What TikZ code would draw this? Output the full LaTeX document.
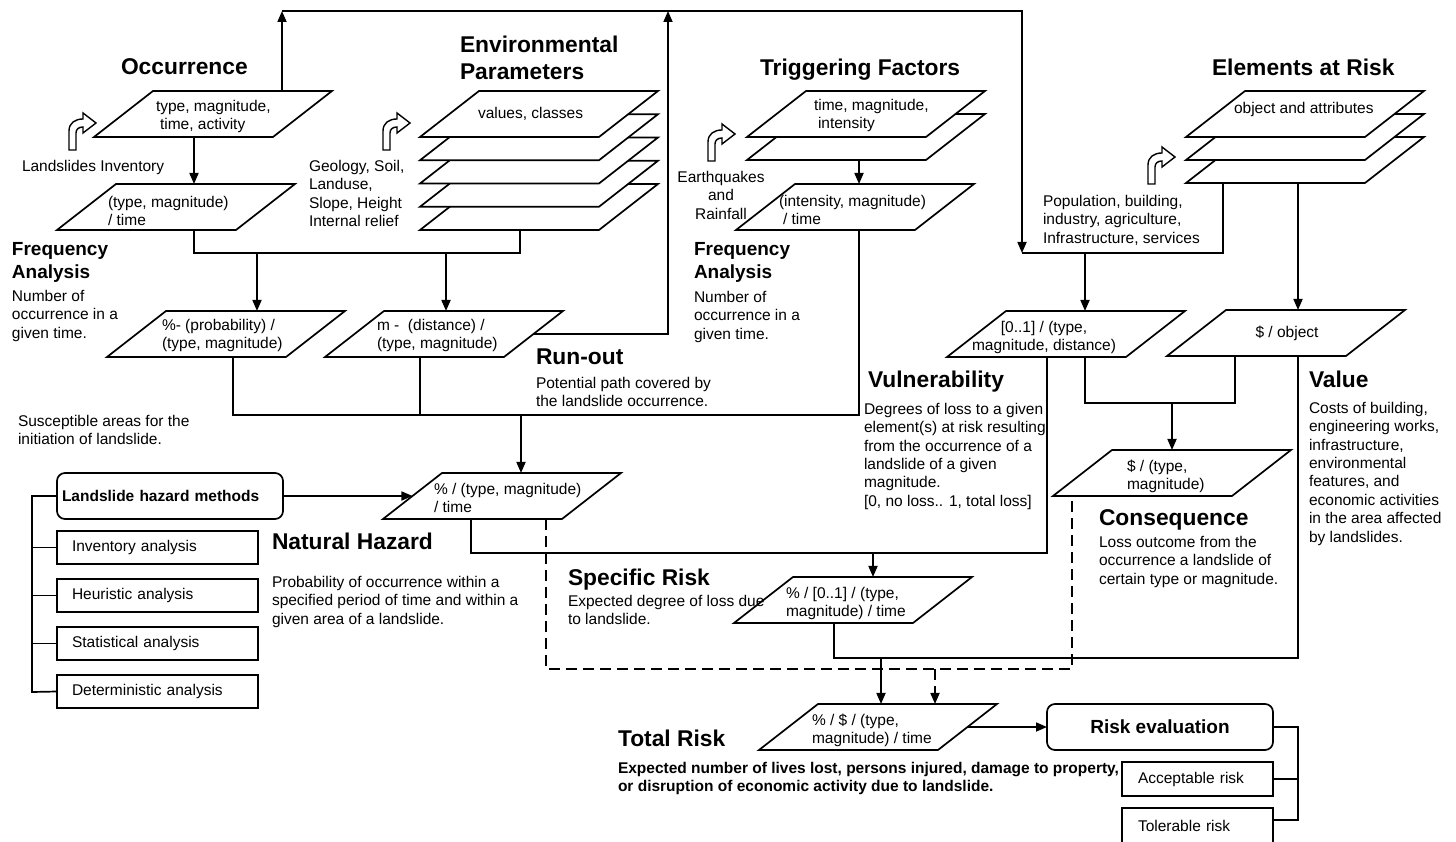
\documentclass[tikz,border=0pt]{standalone}
\usepackage{fontspec}
\setmainfont{Liberation Sans}
\usetikzlibrary{arrows.meta,shapes.geometric}
\begin{document}
\begin{tikzpicture}[x=1pt,y=-1pt,
  every node/.style={outer sep=0pt},
  ln/.style={line width=1.7pt},
  arr/.style={line width=1.7pt,-{Triangle[length=11pt,width=9pt]}},
  dsh/.style={line width=1.7pt,dash pattern=on 11pt off 6pt},
  dsharr/.style={dsh,-{Triangle[length=11pt,width=9pt]}},
  para/.style={trapezium, trapezium left angle=37.95, trapezium right angle=142.05,
    draw, line width=1.7pt, fill=white, inner sep=0pt, text width=120pt,
    text height=46pt, text depth=0pt, anchor=bottom left corner},
  txt/.style={font=\fontsize{15.5}{18.4}\selectfont, inner sep=0pt, align=left, anchor=north west},
  btxt/.style={txt, font=\bfseries\fontsize{15.5}{18.4}\selectfont},
  hd/.style={font=\bfseries\fontsize{22.8}{27}\selectfont, inner sep=0pt, align=left, anchor=north west},
  fa/.style={font=\bfseries\fontsize{19}{23}\selectfont, inner sep=0pt, align=left, anchor=north west},
  mbox/.style={draw, line width=1.7pt, anchor=north west, minimum height=33pt,
    text width=171pt, inner xsep=15pt, inner ysep=0pt, align=left,
    font=\fontsize{15.5}{18.4}\selectfont},
  rbox/.style={draw, line width=1.7pt, rounded corners=8pt, minimum height=46pt, anchor=north west},
  bend/.pic={\draw[line width=1.4pt, fill=white] (0,0) -- (0,-19) .. controls (0,-27) and (6,-31) .. (14,-31)
     -- (14,-37) -- (27,-27) -- (14,-17) -- (14,-23) .. controls (10,-23) and (7,-21) .. (7,-17) -- (7,0) -- cycle;}
]
\useasboundingbox (0,0) rectangle (1456,842);
\clip (0,0) rectangle (1456,842);

% ---------- parallelograms ----------
\node[para] (occ) at (94,137) {};
\node[para] (p2) at (57,230) {};
\node[para] (env5) at (420,230) {};
\node[para] (env4) at (420,206.75) {};
\node[para] (env3) at (420,183.5) {};
\node[para] (env2) at (420,160.25) {};
\node[para] (env1) at (420,137) {};
\node[para] (ppct) at (107,357) {};
\node[para] (pm) at (325,357) {};
\node[para] (trig2) at (747,160) {};
\node[para] (trig1) at (747,137) {};
\node[para] (pint) at (736,230) {};
\node[para] (elem3) at (1186,183) {};
\node[para] (elem2) at (1186,160) {};
\node[para] (elem1) at (1186,137) {};
\node[para] (p01) at (947,357) {};
\node[para] (pobj) at (1167,356) {};
\node[para] (pnat) at (383,519) {};
\node[para] (pspec) at (734,623) {};
\node[para] (pcons) at (1053,496) {};
\node[para] (ptot) at (759,750) {};

% ---------- boxes ----------
\node[rbox, minimum width=226pt, text width=216pt, inner xsep=5pt, align=left,
  font=\bfseries\fontsize{15.5}{18.4}\selectfont] (meth) at (57,473) {Landslide hazard methods};
\node[mbox] (minv) at (57,531) {Inventory analysis};
\node[mbox] (mheu) at (57,579) {Heuristic analysis};
\node[mbox] (msta) at (57,627) {Statistical analysis};
\node[mbox] (mdet) at (57,675) {Deterministic analysis};
\node[rbox, minimum width=226pt, font=\bfseries\fontsize{19}{23}\selectfont] (reval) at (1047,704) {Risk evaluation};
\node[mbox, text width=119pt, inner xsep=16pt, minimum height=34pt] (racc) at (1122,762) {Acceptable risk};
\node[mbox, text width=119pt, inner xsep=16pt, minimum height=36pt] (rtol) at (1122,808) {Tolerable risk};

% ---------- icons ----------
\pic at (69,150) {bend};
\pic at (383,150) {bend};
\pic at (708,161) {bend};
\pic at (1148,184) {bend};

% ---------- headings ----------
\node[hd] (h-occ) at (121,58.6) {Occurrence};
\node[hd] (h-env) at (460,35.6) {Environmental\\Parameters};
\node[hd] (h-trig) at (760,58.6) {Triggering Factors};
\node[hd] (h-elem) at (1212,58.6) {Elements at Risk};
\node[hd] (h-run) at (536,348.6) {Run-out};
\node[hd] (h-vul) at (868,370.6) {Vulnerability};
\node[hd] (h-val) at (1309,370.6) {Value};
\node[hd] (h-nat) at (272,532.6) {Natural Hazard};
\node[hd] (h-spec) at (568,568.6) {Specific Risk};
\node[hd] (h-cons) at (1099,509.6) {Consequence};
\node[hd] (h-tot) at (618,729.6) {Total Risk};
\node[fa] (h-fa1) at (12,242) {Frequency\\Analysis};
\node[fa] (h-fa2) at (694,242) {Frequency\\Analysis};

% ---------- texts ----------
\node[txt] (t-occ) at (156,100) {type, magnitude,\\\hspace*{4pt}time, activity};
\node[txt] (t-inv) at (22,160) {Landslides Inventory};
\node[txt] (t-p2) at (108,196) {(type, magnitude)\\/ time};
\node[txt] (t-env) at (478,107) {values, classes};
\node[txt] (t-geo) at (309,160) {Geology, Soil,\\Landuse,\\Slope, Height\\Internal relief};
\node[txt] (t-num1) at (12,290) {Number of\\occurrence in a\\given time.};
\node[txt] (t-pct) at (162,319) {\%- (probability) /\\(type, magnitude)};
\node[txt] (t-m) at (377,319) {m -\ \ (distance) /\\(type, magnitude)};
\node[txt] (t-run) at (536,377) {Potential path covered by\\the landslide occurrence.};
\node[txt] (t-sus) at (18,415) {Susceptible areas for the\\initiation of landslide.};
\node[txt] (t-trig) at (814,99) {time, magnitude,\\\hspace*{4pt}intensity};
\node[txt, anchor=north, align=center] (t-eq) at (721,171) {Earthquakes\\and\\Rainfall};
\node[txt] (t-int) at (779,195) {(intensity, magnitude)\\\hspace*{4pt}/ time};
\node[txt] (t-num2) at (694,291) {Number of\\occurrence in a\\given time.};
\node[txt] (t-obj) at (1234,102) {object and attributes};
\node[txt] (t-pop) at (1043,195) {Population, building,\\industry, agriculture,\\Infrastructure, services};
\node[txt, anchor=north, align=center] (t-01) at (1044,321) {[0..1] / (type,\\magnitude, distance)};
\node[txt, anchor=north, align=center] (t-dobj) at (1287,326) {\$ / object};
\node[txt] (t-vul) at (864,403) {Degrees of loss to a given\\element(s) at risk resulting\\from the occurrence of a\\landslide of a given\\magnitude.\\{}[0, no loss.. 1, total loss]};
\node[txt] (t-val) at (1309,402) {Costs of building,\\engineering works,\\infrastructure,\\environmental\\features, and\\economic activities\\in the area affected\\by landslides.};
\node[txt] (t-nat) at (434,483) {\% / (type, magnitude)\\/ time};
\node[txt] (t-prob) at (272,576) {Probability of occurrence within a\\specified period of time and within a\\given area of a landslide.};
\node[txt] (t-spec) at (568,595) {Expected degree of loss due\\to landslide.};
\node[txt] (t-pspec) at (786,587) {\% / [0..1] / (type,\\magnitude) / time};
\node[txt] (t-pcons) at (1127,460) {\$ / (type,\\magnitude)};
\node[txt] (t-cons) at (1099,536) {Loss outcome from the\\occurrence a landslide of\\certain type or magnitude.};
\node[txt] (t-ptot) at (812,714) {\% / \$ / (type,\\magnitude) / time};
\node[btxt] (t-tot) at (618,762) {Expected number of lives lost, persons injured, damage to property,\\or disruption of economic activity due to landslide.};

% ---------- junction coordinates ----------
\coordinate (top1) at (282,11);
\coordinate (top2) at (668,11);
\coordinate (topR) at (1022,11);
\coordinate (j1) at (1022,253);
\coordinate (j2) at (194,253);
\coordinate (j3) at (520,253);
\coordinate (j4) at (233,415);
\coordinate (j5) at (859,415);
\coordinate (j6) at (471,553);
\coordinate (j7) at (1047,553);
\coordinate (j8) at (546,669);
\coordinate (j9) at (1072,669);
\coordinate (j10) at (1223,253);
\coordinate (j11) at (1085,403);
\coordinate (j12) at (1235,403);
\coordinate (j13) at (1298,658);
\coordinate (j14) at (834,658);
\coordinate (j15) at (32,496);
\coordinate (j16) at (32,692);
\coordinate (j17) at (1298,727);
\coordinate (j18) at (1298,820);

% ---------- connectors ----------
\draw[arr] (occ.north -| top1) -- (top1);
\draw[arr] (pm.east) -- (pm.east -| top2) -- (top2);
\draw[arr] (top1) -- (topR) -- (j1);
\draw[arr] (occ.south -| j2) -- (p2.north -| j2);
\draw[ln] (p2.south -| j2) -- (j2) -- (j3) -- (env5.south -| j3);
\draw[arr] (257,253) -- (ppct.north -| 257,0);
\draw[arr] (446,253) -- (pm.north -| 446,0);
\draw[ln] (ppct.south -| j4) -- (j4) -- (j5) -- (pint.south -| j5);
\draw[ln] (pm.south -| 420,0) -- (420,415);
\draw[arr] (521,415) -- (pnat.north -| 521,0);
\draw[arr] (trig2.south -| j5) -- (pint.north -| j5);
\draw[arr] (meth.east) -- (pnat.west);
\draw[ln] (pnat.south -| j6) -- (j6) -- (j7) -- (p01.south -| j7);
\draw[arr] (873,553) -- (pspec.north -| 873,0);
\draw[dsh] (pnat.south -| j8) -- (j8) -- (j9) -- (pcons.south -| j9);
\draw[dsharr] (935,669) -- (ptot.north -| 935,0);
\draw[ln] (elem3.south -| j10) -- (j10) -- (j1);
\draw[arr] (1085,253) -- (p01.north -| 1085,0);
\draw[arr] (elem3.south -| j13) -- (pobj.north -| j13);
\draw[ln] (p01.south -| j11) -- (j11) -- (j12) -- (pobj.south -| j12);
\draw[arr] (1172,403) -- (pcons.north -| 1172,0);
\draw[ln] (pobj.south -| j13) -- (j13) -- (j14) -- (pspec.south -| j14);
\draw[arr] (881,658) -- (ptot.north -| 881,0);
\draw[arr] (ptot.east) -- (reval.west);
\draw[ln] (meth.west) -- (j15) -- (j16) -- (mdet.west);
\draw[ln] (minv.west) -- (minv.west -| j15);
\draw[ln] (mheu.west) -- (mheu.west -| j15);
\draw[ln] (msta.west) -- (msta.west -| j15);
\draw[ln] (reval.east) -- (j17) -- (j18) -- (rtol.north east |- j18);
\draw[ln] (racc.east) -- (racc.east -| j17);
\end{tikzpicture}
\end{document}
